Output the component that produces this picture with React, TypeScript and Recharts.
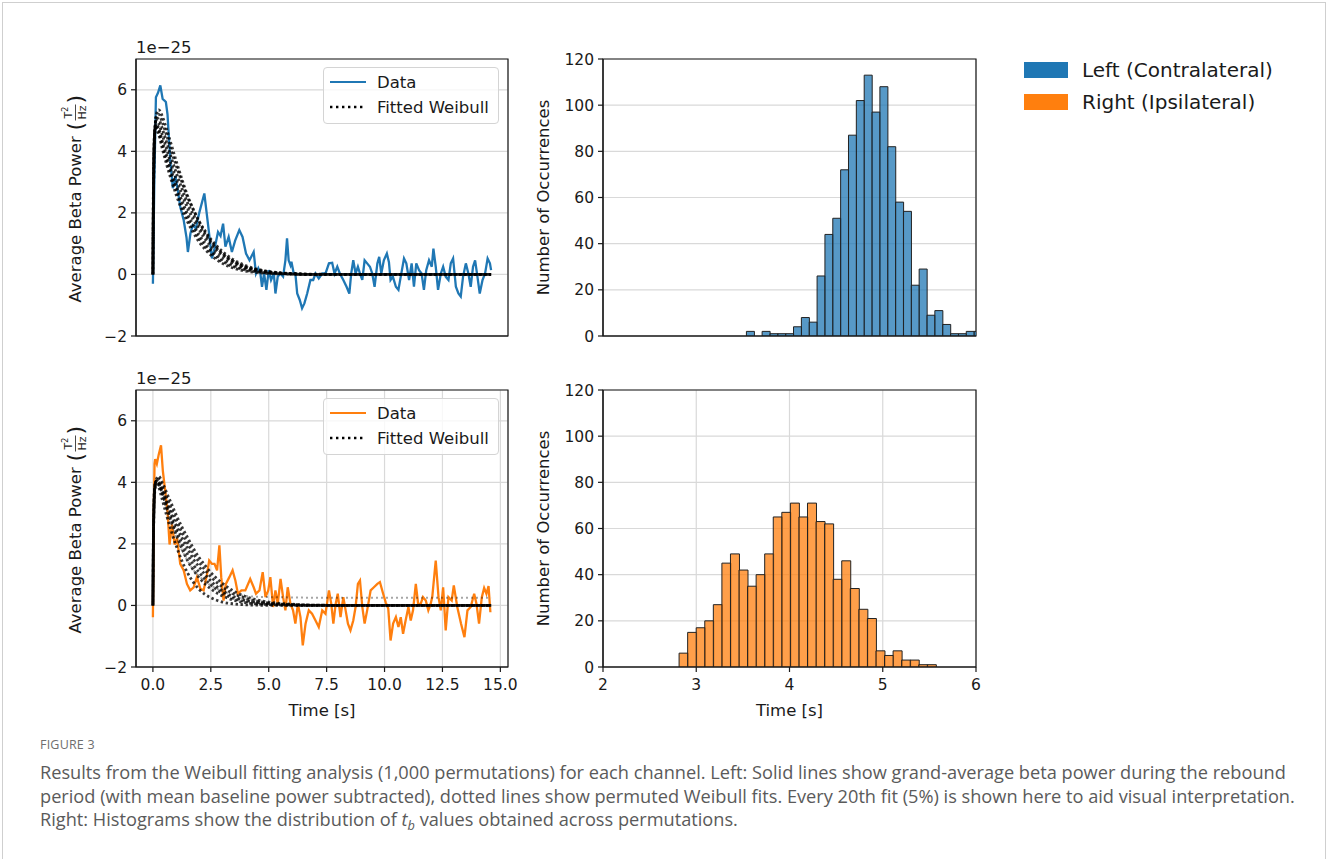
import React from 'react';
import { ComposedChart, Line, Bar, XAxis, YAxis, CartesianGrid, ReferenceArea } from 'recharts';

const BLUE = '#1f77b4';
const ORANGE = '#ff7f0e';
const GRID = '#d9d9d9';
const INK = '#1a1a1a';
const FONT = '"DejaVu Sans", sans-serif';

// left panels: time [s] vs beta power (x 1e-25)
const TIME_DOMAIN: [number, number] = [-0.73, 15.33];
const TIME_TICKS = [0, 2.5, 5, 7.5, 10, 12.5, 15];
const POWER_DOMAIN: [number, number] = [-2, 7];
const POWER_TICKS = [-2, 0, 2, 4, 6];

// right panels: t_b histograms
const TB_DOMAIN: [number, number] = [2, 6];
const TB_TICKS = [2, 3, 4, 5, 6];
const COUNT_DOMAIN: [number, number] = [0, 120];
const COUNT_TICKS = [0, 20, 40, 60, 80, 100, 120];

// grand-average beta power, left channel [t, power]
const LEFT_POWER: [number, number][] = [
  [0, -0.3], [0.06, 3.0], [0.13, 5.76], [0.22, 5.9], [0.32, 6.14], [0.42, 5.7], [0.5, 5.65], [0.56, 5.6],
  [0.63, 5.2], [0.75, 3.7], [0.86, 2.8], [0.97, 3.2], [1.08, 2.7], [1.18, 2.2], [1.33, 1.76], [1.45, 1.2],
  [1.51, 0.73], [1.62, 1.33], [1.72, 1.6], [1.85, 1.5], [2.0, 2.0], [2.22, 2.63], [2.32, 2.0], [2.43, 1.3],
  [2.55, 0.52], [2.68, 0.9], [2.81, 1.38], [2.92, 1.25], [3.03, 1.65], [3.13, 0.9], [3.27, 1.22], [3.41, 0.73],
  [3.55, 1.1], [3.73, 1.44], [3.87, 1.22], [4.02, 0.68], [4.17, 0.46], [4.35, 0.73], [4.45, 0.03], [4.55, 0.2],
  [4.64, 0.03], [4.71, -0.4], [4.8, 0.03], [4.9, -0.5], [5.0, 0.14], [5.1, -0.18], [5.22, 0.03], [5.29, -0.62],
  [5.39, -0.07], [5.51, 0.03], [5.62, -0.07], [5.72, 0.46], [5.79, 1.17], [5.86, 0.46], [5.94, 0.3], [5.98, 0.41],
  [6.08, 0.03], [6.15, 0.03], [6.23, -0.62], [6.34, -0.83], [6.44, -1.1], [6.54, -0.94], [6.66, -0.62], [6.8, -0.18],
  [6.92, -0.18], [7.02, 0.03], [7.16, -0.13], [7.31, 0.03], [7.45, 0.03], [7.6, 0.36], [7.74, 0.38], [7.84, 0.03],
  [7.96, 0.25], [8.07, 0.03], [8.22, -0.18], [8.36, -0.4], [8.48, -0.62], [8.56, 0.03], [8.65, 0.46], [8.75, 0.03],
  [8.85, 0.25], [8.94, 0.03], [9.04, -0.18], [9.14, 0.46], [9.25, 0.36], [9.37, 0.25], [9.47, 0.03], [9.57, -0.4],
  [9.69, 0.36], [9.77, 0.57], [9.86, 0.03], [9.97, 0.46], [10.1, 0.68], [10.19, 0.4], [10.26, -0.18], [10.36, -0.07],
  [10.49, -0.4], [10.6, -0.5], [10.7, -0.07], [10.84, 0.52], [10.94, 0.36], [11.06, -0.18], [11.17, 0.36], [11.27, -0.4],
  [11.37, 0.36], [11.49, 0.14], [11.6, 0.03], [11.7, -0.5], [11.8, 0.14], [11.92, 0.46], [12.04, 0.25], [12.11, 0.84],
  [12.21, 0.25], [12.31, -0.5], [12.43, 0.03], [12.53, 0.25], [12.64, -0.07], [12.76, -0.18], [12.86, 0.36], [12.96, 0.52],
  [13.08, -0.4], [13.19, -0.62], [13.29, -0.72], [13.39, -0.07], [13.51, 0.36], [13.62, 0.03], [13.72, -0.4], [13.82, 0.25],
  [13.91, 0.46], [14.01, -0.07], [14.11, -0.62], [14.23, -0.18], [14.34, 0.03], [14.45, 0.52], [14.55, 0.36], [14.6, 0.14],
];

// grand-average beta power, right channel [t, power]
const RIGHT_POWER: [number, number][] = [
  [0, -0.38], [0.03, 2.65], [0.07, 4.6], [0.1, 4.75], [0.17, 4.6], [0.25, 4.9], [0.35, 5.2], [0.43, 4.36],
  [0.53, 3.73], [0.63, 3.06], [0.72, 1.98], [0.82, 2.63], [0.94, 1.98], [1.04, 2.19], [1.18, 1.35], [1.33, 1.14],
  [1.47, 0.7], [1.61, 0.49], [1.76, 0.59], [1.9, 0.92], [2.05, 0.54], [2.19, 0.49], [2.34, 1.03], [2.43, 1.46],
  [2.55, 1.35], [2.66, 1.35], [2.77, 1.14], [2.87, 1.95], [2.95, 0.92], [3.05, 0.16], [3.15, 0.7], [3.3, 0.92],
  [3.44, 1.14], [3.56, 0.81], [3.67, 0.38], [3.82, 0.49], [3.99, 0.49], [4.2, 0.86], [4.35, 0.59], [4.45, 0.38],
  [4.6, 0.49], [4.74, 1.08], [4.86, 0.27], [4.98, 0.49], [5.07, 0.92], [5.19, -0.05], [5.29, 0.49], [5.39, 0.05],
  [5.51, 0.86], [5.62, 0.27], [5.72, -0.16], [5.82, 0.59], [5.94, 0.05], [6.05, -0.16], [6.15, -0.59], [6.26, 0.05],
  [6.37, -0.38], [6.47, -1.3], [6.59, -0.59], [6.73, -0.16], [6.87, -0.27], [7.02, -0.49], [7.16, -0.7], [7.31, -0.16],
  [7.45, -0.27], [7.6, 0.49], [7.7, 0.05], [7.79, -0.59], [7.89, 0.05], [7.98, 0.38], [8.1, -0.38], [8.22, 0.27],
  [8.32, -0.16], [8.42, -0.59], [8.53, -0.81], [8.65, -0.49], [8.75, -0.05], [8.85, 0.7], [8.94, 0.81], [9.04, -0.05],
  [9.14, -0.59], [9.25, -0.16], [9.4, 0.49], [9.54, 0.59], [9.69, 0.7], [9.8, 0.76], [9.94, 0.38], [10.05, 0.1],
  [10.16, -0.1], [10.26, -1.14], [10.37, -0.59], [10.49, -0.38], [10.6, -0.7], [10.7, -0.38], [10.8, -0.92], [10.91, -0.49],
  [11.03, -0.05], [11.13, -0.49], [11.23, -0.16], [11.35, 0.7], [11.45, 0.05], [11.56, 0.05], [11.66, 0.27], [11.78, 0.16],
  [11.89, -0.16], [11.99, 0.05], [12.06, 0.27], [12.21, 1.46], [12.33, 0.27], [12.43, -0.16], [12.53, 0.59], [12.64, -0.81],
  [12.76, 0.27], [12.9, 0.16], [12.99, 0.65], [13.14, -0.05], [13.3, -0.59], [13.45, -1.03], [13.58, -0.16], [13.72, -0.05],
  [13.87, 0.38], [13.97, 0.05], [14.08, -0.59], [14.2, 0.27], [14.3, 0.57], [14.4, 0.38], [14.49, 0.63], [14.57, -0.22],
];

// sample times of the permuted Weibull fits (every 20th fit, a handful shown)
const FIT_T = [0, 0.03, 0.08, 0.15, 0.25, 0.4, 0.6, 0.8, 1.0, 1.25, 1.5, 1.75, 2.0, 2.25, 2.5, 2.75, 3.0, 3.5, 4.0, 4.5, 5.0, 6.0, 7.0, 9.0, 11.0, 13.0, 14.6];

const LEFT_FITS = [
  [0, 3.5, 4.6, 4.75, 4.55, 4.1, 3.55, 3.05, 2.6, 2.1, 1.7, 1.35, 1.05, 0.82, 0.63, 0.48, 0.36, 0.2, 0.11, 0.06, 0.03, 0.01, 0, 0, 0, 0, 0],
  [0, 3.35, 4.65, 4.82, 4.65, 4.22, 3.7, 3.2, 2.75, 2.25, 1.82, 1.47, 1.16, 0.92, 0.71, 0.55, 0.42, 0.24, 0.14, 0.08, 0.04, 0.01, 0, 0, 0, 0, 0],
  [0, 3.2, 4.7, 4.9, 4.75, 4.35, 3.85, 3.35, 2.9, 2.4, 1.95, 1.6, 1.28, 1.02, 0.8, 0.63, 0.49, 0.29, 0.17, 0.1, 0.05, 0.02, 0, 0, 0, 0, 0],
  [0, 3.0, 4.7, 5.0, 4.9, 4.55, 4.05, 3.55, 3.1, 2.6, 2.15, 1.78, 1.45, 1.17, 0.94, 0.75, 0.59, 0.36, 0.21, 0.12, 0.07, 0.02, 0, 0, 0, 0, 0],
  [0, 2.95, 4.65, 5.08, 5.05, 4.75, 4.28, 3.78, 3.32, 2.8, 2.32, 1.94, 1.58, 1.3, 1.05, 0.84, 0.67, 0.42, 0.25, 0.15, 0.08, 0.02, 0, 0, 0, 0, 0],
  [0, 2.9, 4.6, 5.15, 5.2, 4.95, 4.5, 4.0, 3.55, 3.0, 2.5, 2.1, 1.72, 1.42, 1.15, 0.93, 0.75, 0.47, 0.29, 0.17, 0.1, 0.03, 0.01, 0, 0, 0, 0],
  [0, 2.8, 4.5, 5.2, 5.35, 5.15, 4.7, 4.2, 3.7, 3.1, 2.55, 2.1, 1.7, 1.37, 1.1, 0.87, 0.68, 0.41, 0.24, 0.14, 0.08, 0.02, 0, 0, 0, 0, 0],
];

const RIGHT_FITS = [
  [0, 2.8, 3.9, 4.0, 3.85, 3.45, 2.9, 2.4, 1.95, 1.45, 1.05, 0.75, 0.52, 0.36, 0.25, 0.17, 0.11, 0.05, 0.02, 0.01, 0, 0, 0, 0, 0, 0, 0],
  [0, 2.7, 3.85, 4.05, 3.95, 3.65, 3.15, 2.7, 2.3, 1.85, 1.45, 1.15, 0.9, 0.7, 0.54, 0.41, 0.31, 0.17, 0.09, 0.05, 0.03, 0.01, 0, 0, 0, 0, 0],
  [0, 2.65, 3.82, 4.05, 3.98, 3.7, 3.25, 2.82, 2.45, 2.02, 1.65, 1.32, 1.07, 0.85, 0.67, 0.52, 0.4, 0.22, 0.13, 0.07, 0.04, 0.01, 0, 0, 0, 0, 0],
  [0, 2.6, 3.8, 4.05, 4.0, 3.75, 3.35, 2.95, 2.6, 2.2, 1.85, 1.5, 1.25, 1.0, 0.8, 0.62, 0.48, 0.28, 0.17, 0.1, 0.06, 0.02, 0, 0, 0, 0, 0],
  [0, 2.55, 3.75, 4.08, 4.1, 3.88, 3.5, 3.12, 2.78, 2.38, 2.02, 1.68, 1.4, 1.15, 0.93, 0.75, 0.6, 0.37, 0.23, 0.14, 0.08, 0.03, 0.01, 0, 0, 0, 0],
  [0, 2.5, 3.7, 4.1, 4.2, 4.0, 3.65, 3.3, 2.95, 2.55, 2.2, 1.85, 1.55, 1.3, 1.07, 0.88, 0.72, 0.46, 0.29, 0.18, 0.11, 0.04, 0.01, 0, 0, 0, 0],
];
// one right-channel fit settles on a small positive baseline
const RIGHT_FIT_OFFSET = [0, 2.6, 3.8, 4.0, 3.95, 3.6, 3.1, 2.65, 2.25, 1.8, 1.45, 1.15, 0.95, 0.78, 0.65, 0.55, 0.47, 0.36, 0.31, 0.28, 0.27, 0.26, 0.25, 0.25, 0.25, 0.25, 0.25];

// histogram bins of t_b
const LEFT_BIN_START = 3.538;
const LEFT_BIN_WIDTH = 0.0842;
const LEFT_COUNTS = [2, 0, 2, 1, 1, 1, 4, 8, 6, 26, 44, 51, 72, 87, 102, 113, 97, 108, 82, 58, 54, 22, 29, 9, 11, 5, 1, 1, 2, 2];
const RIGHT_BIN_START = 2.816;
const RIGHT_BIN_WIDTH = 0.0918;
const RIGHT_COUNTS = [6, 15, 17, 20, 27, 45, 49, 42, 35, 40, 49, 65, 67, 71, 65, 71, 63, 62, 38, 46, 34, 25, 21, 7, 5, 7, 3, 3, 1, 1];

const PLOT_W = 372;
const PLOT_H = 277;
const TOP_M = 59;

const tickStyle = { fill: INK, fontSize: 15.5, fontFamily: FONT };
const axisLine = { stroke: INK, strokeWidth: 1.2 };
const minus = (v: number) => (v < 0 ? `\u2212${Math.abs(v)}` : `${v}`);

function PowerLabel(props: any) {
  const vb = props.viewBox || { x: 0, y: 0, width: 0, height: 0 };
  const cx = vb.x + vb.width - 61;
  const cy = vb.y + vb.height / 2;
  return (
    <g fontFamily={FONT} fill={INK}>
      <text x={vb.x + vb.width} y={vb.y - 6} fontSize={16.5}>1e{'\u2212'}25</text>
      <g transform={`translate(${cx},${cy}) rotate(-90)`}>
        <text x={-105} y={6} fontSize={16.5}>Average Beta Power</text>
        <text x={67} y={8} fontSize={22}>(</text>
        <text x={85} y={-3} fontSize={11} textAnchor="middle">T<tspan dy={-4} fontSize={8}>2</tspan></text>
        <line x1={77} x2={93} y1={0.5} y2={0.5} stroke={INK} strokeWidth={0.8} />
        <text x={85} y={11} fontSize={11} textAnchor="middle">Hz</text>
        <text x={94} y={8} fontSize={22}>)</text>
      </g>
    </g>
  );
}

function CountLabel(props: any) {
  const vb = props.viewBox || { x: 0, y: 0, width: 0, height: 0 };
  const cx = vb.x + vb.width - 60;
  const cy = vb.y + vb.height / 2;
  return (
    <text transform={`translate(${cx},${cy}) rotate(-90)`} y={6} textAnchor="middle" fontFamily={FONT} fontSize={16.5} fill={INK}>
      Number of Occurrences
    </text>
  );
}

function TimeLabel(props: any) {
  const vb = props.viewBox || { x: 0, y: 0, width: 0, height: 0 };
  return (
    <text x={vb.x + vb.width / 2} y={vb.y + 49} textAnchor="middle" fontFamily={FONT} fontSize={16.5} fill={INK}>
      Time [s]
    </text>
  );
}

function LineLegend({ color, left, top }: { color: string; left: number; top: number }) {
  return (
    <div style={{ position: 'absolute', left, top, width: 176, height: 57, boxSizing: 'border-box', border: '1px solid #d4d4d4', borderRadius: 4, background: 'rgba(255,255,255,0.8)' }}>
      <svg width={176} height={57} style={{ position: 'absolute', left: -1, top: -1 }}>
        <line x1={7} x2={43} y1={15} y2={15} stroke={color} strokeWidth={2.2} />
        <line x1={7} x2={43} y1={40} y2={40} stroke="#000" strokeWidth={2.4} strokeDasharray="2.4 3.6" />
        <text x={54} y={21} fontFamily={FONT} fontSize={16.5} fill={INK}>Data</text>
        <text x={54} y={46} fontFamily={FONT} fontSize={16.5} fill={INK}>Fitted Weibull</text>
      </svg>
    </div>
  );
}

function PowerPanel({ plotTop, data, color, fits, faintFit, showTime }: {
  plotTop: number; data: [number, number][]; color: string; fits: number[][]; faintFit?: number[]; showTime: boolean;
}) {
  const bottom = showTime ? 70 : 20;
  const series = data.map(([t, v]) => ({ t, v }));
  const fitSeries = fits.map((f) => FIT_T.map((t, i) => ({ t, v: f[i] })));
  const faint = faintFit ? FIT_T.map((t, i) => ({ t, v: faintFit[i] })) : null;
  return (
    <div style={{ position: 'absolute', left: 0, top: plotTop - TOP_M }}>
      <ComposedChart width={136 + PLOT_W + 12} height={TOP_M + PLOT_H + bottom} margin={{ top: TOP_M, right: 12, bottom: 0, left: 0 }}>
        <CartesianGrid stroke={GRID} strokeWidth={1.2} />
        <XAxis type="number" dataKey="t" domain={TIME_DOMAIN} ticks={TIME_TICKS} allowDataOverflow height={bottom}
          tick={showTime ? tickStyle : false} tickFormatter={(v: number) => v.toFixed(1)} tickSize={5} tickMargin={7}
          axisLine={axisLine} tickLine={axisLine} label={showTime ? <TimeLabel /> : undefined} />
        <YAxis type="number" domain={POWER_DOMAIN} ticks={POWER_TICKS} allowDataOverflow width={136}
          tick={tickStyle} tickFormatter={minus} tickSize={5} tickMargin={4}
          axisLine={axisLine} tickLine={axisLine} label={<PowerLabel />} />
        <ReferenceArea x1={TIME_DOMAIN[0]} x2={TIME_DOMAIN[1]} y1={POWER_DOMAIN[0]} y2={POWER_DOMAIN[1]} fill="none" stroke={INK} strokeWidth={1.2} />
        <Line data={series} dataKey="v" type="linear" stroke={color} strokeWidth={2.3} dot={false} activeDot={false} isAnimationActive={false} />
        {faint && (
          <Line data={faint} dataKey="v" type="monotone" stroke="#000" strokeOpacity={0.35} strokeWidth={2} strokeDasharray="2 3"
            dot={false} activeDot={false} isAnimationActive={false} />
        )}
        {fitSeries.map((s, i) => (
          <Line key={i} data={s} dataKey="v" type="monotone" stroke="#000" strokeOpacity={0.78} strokeWidth={2.8}
            strokeDasharray="2.4 2.6" strokeDashoffset={i * 0.8} dot={false} activeDot={false} isAnimationActive={false} />
        ))}
      </ComposedChart>
      <LineLegend color={color} left={136 + 187} top={TOP_M + 8} />
    </div>
  );
}

function HistPanel({ plotTop, start, width, counts, color, showTime }: {
  plotTop: number; start: number; width: number; counts: number[]; color: string; showTime: boolean;
}) {
  const bottom = showTime ? 70 : 20;
  const bins = counts.map((n, i) => ({ tb: start + (i + 0.5) * width, n }));
  return (
    <div style={{ position: 'absolute', left: 520, top: plotTop - TOP_M }}>
      <ComposedChart width={83 + 373 + 20} height={TOP_M + PLOT_H + bottom} data={bins} barCategoryGap={0} barGap={0}
        margin={{ top: TOP_M, right: 20, bottom: 0, left: 0 }}>
        <CartesianGrid stroke={GRID} strokeWidth={1.2} />
        <XAxis type="number" dataKey="tb" domain={TB_DOMAIN} ticks={TB_TICKS} allowDataOverflow height={bottom}
          tick={showTime ? tickStyle : false} tickSize={5} tickMargin={7}
          axisLine={axisLine} tickLine={axisLine} label={showTime ? <TimeLabel /> : undefined} />
        <YAxis type="number" domain={COUNT_DOMAIN} ticks={COUNT_TICKS} allowDataOverflow width={83}
          tick={tickStyle} tickSize={5} tickMargin={4} axisLine={axisLine} tickLine={axisLine} label={<CountLabel />} />
        <Bar dataKey="n" fill={color} fillOpacity={0.75} stroke="#222" strokeWidth={1} isAnimationActive={false} />
        <ReferenceArea x1={TB_DOMAIN[0]} x2={TB_DOMAIN[1]} y1={COUNT_DOMAIN[0]} y2={COUNT_DOMAIN[1]} fill="none" stroke={INK} strokeWidth={1.2} />
      </ComposedChart>
    </div>
  );
}

export default function App() {
  return (
    <div style={{ position: 'absolute', left: 0, top: 0, width: 1328, height: 859, background: '#fff', overflow: 'hidden' }}>
      <div style={{ position: 'absolute', left: 2, top: 2, width: 1322, height: 900, border: '1px solid #cfcfcf' }} />

      <PowerPanel plotTop={59} data={LEFT_POWER} color={BLUE} fits={LEFT_FITS} showTime={false} />
      <PowerPanel plotTop={390} data={RIGHT_POWER} color={ORANGE} fits={RIGHT_FITS} faintFit={RIGHT_FIT_OFFSET} showTime />
      <HistPanel plotTop={59} start={LEFT_BIN_START} width={LEFT_BIN_WIDTH} counts={LEFT_COUNTS} color={BLUE} showTime={false} />
      <HistPanel plotTop={390} start={RIGHT_BIN_START} width={RIGHT_BIN_WIDTH} counts={RIGHT_COUNTS} color={ORANGE} showTime />

      <div style={{ position: 'absolute', left: 1024, top: 54, fontFamily: FONT, fontSize: 20, color: INK }}>
        {[{ c: BLUE, l: 'Left (Contralateral)' }, { c: ORANGE, l: 'Right (Ipsilateral)' }].map((d) => (
          <div key={d.l} style={{ display: 'flex', alignItems: 'center', height: 32 }}>
            <div style={{ width: 44, height: 16, background: d.c, marginRight: 14 }} />
            <span>{d.l}</span>
          </div>
        ))}
      </div>

      <div style={{ position: 'absolute', left: 40, top: 736, fontFamily: '"Open Sans", sans-serif', fontSize: 12.5, color: '#6e6e6e', letterSpacing: 0.2 }}>
        FIGURE 3
      </div>
      <div style={{ position: 'absolute', left: 40, top: 761, fontFamily: '"Open Sans", sans-serif', fontSize: 18.2, lineHeight: '23.5px', color: '#5a5a5a', whiteSpace: 'nowrap' }}>
        <div>Results from the Weibull fitting analysis (1,000 permutations) for each channel. Left: Solid lines show grand-average beta power during the rebound</div>
        <div>period (with mean baseline power subtracted), dotted lines show permuted Weibull fits. Every 20th fit (5%) is shown here to aid visual interpretation.</div>
        <div>
          Right: Histograms show the distribution of <span style={{ fontStyle: 'italic' }}>t</span>
          <span style={{ fontStyle: 'italic', fontSize: '0.7em', position: 'relative', top: '0.3em' }}>b</span> values obtained across permutations.
        </div>
      </div>
    </div>
  );
}
